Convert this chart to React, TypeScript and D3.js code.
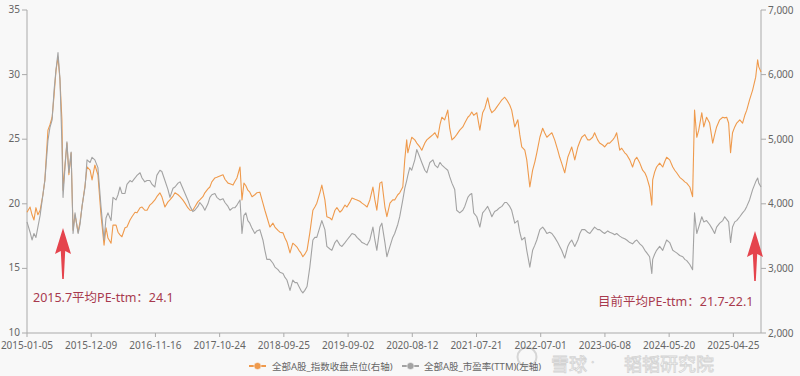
import React from "react";
import * as d3 from "d3";

// trading-day index from 2015-01-05 (category positions)
const dayIndex = [
  0, 11, 18, 25, 32, 39, 47, 57, 64, 75,
  82, 90, 97, 104, 111, 118, 125, 129, 136, 143,
  150, 158, 165, 172, 183, 190, 197, 208, 215, 226,
  233, 243, 254, 265, 276, 283, 290, 301, 308, 319,
  326, 333, 340, 351, 358, 369, 376, 387, 394, 405,
  412, 422, 430, 440, 448, 458, 465, 476, 483, 494,
  505, 512, 523, 530, 541, 548, 558, 566, 576, 584,
  594, 601, 612, 619, 630, 637, 648, 655, 662, 673,
  680, 691, 702, 709, 720, 727, 738, 745, 752, 763,
  770, 777, 784, 791, 798, 806, 816, 823, 834, 845,
  852, 859, 870, 881, 888, 899, 906, 917, 924, 931,
  942, 952, 960, 967, 974, 981, 988, 995, 1003, 1013,
  1024, 1031, 1038, 1049, 1056, 1067, 1074, 1085, 1092, 1103,
  1110, 1121, 1128, 1139, 1146, 1157, 1164, 1175, 1182, 1192,
  1200, 1210, 1218, 1228, 1239, 1246, 1253, 1264, 1271, 1282,
  1289, 1300, 1310, 1317, 1328, 1335, 1346, 1353, 1360, 1364,
  1371, 1378, 1389, 1396, 1407, 1414, 1425, 1432, 1443, 1454,
  1461, 1471, 1479, 1486, 1496, 1507, 1514, 1522, 1532, 1539,
  1550, 1561, 1568, 1579, 1586, 1593, 1600, 1611, 1622, 1632,
  1640, 1650, 1658, 1665, 1675, 1683, 1693, 1701, 1711, 1718,
  1729, 1736, 1747, 1758, 1765, 1772, 1783, 1790, 1801, 1811,
  1819, 1826, 1837, 1847, 1854, 1862, 1872, 1880, 1890, 1901,
  1908, 1915, 1926, 1937, 1944, 1951, 1962, 1973, 1980, 1987,
  1998, 2008, 2016, 2026, 2033, 2044, 2051, 2062, 2069, 2080,
  2087, 2098, 2105, 2112, 2123, 2130, 2141, 2148, 2159, 2169,
  2177, 2184, 2195, 2205, 2213, 2220, 2230, 2238, 2241, 2248,
  2255, 2266, 2277, 2284, 2291, 2302, 2313, 2320, 2327, 2338,
  2349, 2356, 2363, 2374, 2384, 2391, 2399, 2406, 2417, 2424,
  2434, 2445, 2456, 2463, 2470, 2481, 2492, 2499, 2506, 2513,
  2520, 2527, 2535, 2542, 2553, 2563, 2571, 2578, 2588, 2599,
  2610, 2617, 2621, 2629,
];

// 全部A股_指数收盘点位 (right axis)
const indexClose = [
  3870, 3950, 3830, 3750, 3940, 3830, 3900, 4140, 4370, 5140,
  5220, 5340, 5680, 6070, 6270, 5920, 5300, 4210, 4600, 4940,
  4450, 4790, 3590, 3830, 3560, 3720, 3950, 4290, 4570, 4520,
  4370, 4600, 4450, 3830, 3360, 3630, 3470, 3390, 3670, 3670,
  3560, 3520, 3490, 3630, 3640, 3750, 3800, 3870, 3860, 3940,
  3950, 3900, 3900, 3980, 4010, 4060, 4110, 4170, 4110, 3950,
  4030, 4060, 4120, 4170, 4140, 4110, 4060, 4010, 3940, 3900,
  3900, 3950, 4030, 4060, 4110, 4170, 4230, 4260, 4340, 4400,
  4410, 4430, 4450, 4380, 4320, 4310, 4290, 4350, 4400, 4570,
  4060, 4320, 4280, 4210, 4180, 4110, 4140, 4170, 4180, 4010,
  3900, 3800, 3640, 3700, 3640, 3590, 3560, 3550, 3470, 3410,
  3240, 3390, 3360, 3330, 3280, 3240, 3180, 3220, 3280, 3550,
  3900, 3950, 4010, 4170, 4290, 4060, 3800, 3780, 3750, 3900,
  3940, 3870, 3900, 3980, 3950, 4030, 4090, 4070, 4060, 4040,
  4010, 3980, 3950, 4060, 4260, 4060, 3900, 4320, 4340, 3950,
  3800, 4010, 4060, 4060, 4140, 4170, 4260, 4680, 4990, 4790,
  4910, 5030, 4990, 4940, 4880, 4830, 4940, 4990, 5030, 5070,
  5100, 5020, 5220, 5340, 5300, 5450, 5170, 4990, 5030, 5070,
  5140, 5190, 5250, 5340, 5370, 5420, 5370, 5410, 5140, 5410,
  5480, 5640, 5480, 5410, 5450, 5500, 5560, 5610, 5650, 5610,
  5530, 5450, 5190, 5300, 5070, 4880, 4830, 4680, 4260, 4520,
  4650, 4790, 5030, 5170, 5100, 5030, 5070, 5100, 4990, 4830,
  4720, 4630, 4480, 4720, 4800, 4880, 4680, 4880, 4960, 5030,
  5070, 4990, 4990, 5030, 5100, 4990, 4940, 4910, 4880, 4940,
  4940, 4990, 5030, 5100, 4830, 4860, 4790, 4760, 4680, 4570,
  4680, 4720, 4630, 4520, 4480, 4410, 4260, 3980, 4370, 4490,
  4570, 4630, 4570, 4650, 4720, 4680, 4570, 4520, 4480, 4410,
  4370, 4340, 4320, 4260, 4110, 5450, 5030, 5140, 5410, 5190,
  5340, 5250, 4940, 5070, 5190, 5300, 5340, 5330, 5340, 5250,
  4790, 5100, 5190, 5250, 5300, 5250, 5370, 5450, 5610, 5760,
  5960, 6230, 6120, 6040,
];

// 全部A股_市盈率(TTM) (left axis)
const peTTM = [
  18.6, 17.8, 17.2, 17.7, 17.4, 18.2, 19.1, 20.7, 21.8, 24.9,
  25.9, 26.5, 28.8, 30.4, 31.7, 29.7, 24.7, 20.5, 22.8, 24.8,
  22.4, 24.0, 17.7, 19.3, 17.7, 18.4, 19.8, 21.3, 23.4, 23.2,
  23.6, 23.4, 22.8, 19.8, 17.2, 18.9, 19.3, 18.7, 20.5, 20.3,
  20.7, 21.3, 20.8, 20.8, 21.5, 21.8, 21.7, 22.0, 22.2, 22.4,
  22.0, 21.7, 21.8, 21.8, 21.5, 21.3, 22.2, 22.6, 22.5, 21.8,
  21.1, 20.5, 21.2, 21.3, 21.6, 21.7, 21.2, 20.8, 20.3, 19.8,
  19.4, 19.5, 19.8, 20.1, 19.8, 19.5, 20.0, 20.5, 20.7, 20.8,
  20.5, 20.3, 20.4, 20.1, 19.8, 19.5, 19.7, 19.7, 19.9, 20.3,
  17.7, 19.1, 19.3, 18.7, 18.5, 18.1, 17.7, 17.9, 18.0, 17.2,
  16.4, 15.7, 15.7, 15.4, 15.1, 14.9, 14.7, 14.6, 14.3, 14.1,
  13.3, 14.1, 13.9, 13.9, 13.6, 13.3, 13.1, 13.3, 13.6, 15.1,
  17.2, 17.4, 17.4, 18.2, 18.7, 18.0, 16.7, 16.5, 16.4, 17.0,
  17.2, 16.8, 16.7, 17.0, 17.2, 17.5, 17.7, 17.6, 17.4, 17.2,
  17.0, 16.9, 16.8, 17.2, 18.2, 17.2, 16.4, 18.2, 18.5, 17.0,
  15.9, 16.7, 17.4, 17.7, 18.4, 19.0, 20.3, 21.2, 21.8, 22.2,
  22.8, 22.6, 23.4, 24.2, 23.6, 23.2, 22.6, 22.4, 23.2, 23.4,
  23.0, 22.8, 23.2, 23.0, 22.8, 22.6, 22.1, 21.6, 21.1, 19.5,
  19.3, 19.5, 19.8, 20.5, 20.7, 20.8, 19.3, 19.0, 18.2, 19.3,
  19.5, 19.8, 19.4, 19.0, 19.4, 19.5, 19.7, 19.8, 20.1, 20.1,
  19.8, 19.5, 18.5, 18.7, 17.8, 17.2, 17.4, 16.4, 15.1, 16.4,
  16.8, 17.2, 18.0, 18.2, 18.0, 17.7, 17.8, 17.7, 17.4, 17.0,
  16.7, 16.4, 15.8, 16.7, 17.0, 17.2, 16.7, 17.2, 17.7, 18.0,
  18.0, 17.8, 17.7, 18.0, 18.2, 18.0, 18.0, 17.8, 17.7, 17.9,
  17.8, 17.7, 17.6, 17.7, 17.5, 17.4, 17.3, 17.2, 17.0, 16.9,
  17.1, 17.2, 16.9, 16.7, 16.4, 16.2, 15.9, 14.6, 15.7, 16.1,
  16.4, 16.7, 16.4, 16.8, 17.2, 17.0, 16.4, 16.3, 16.2, 16.0,
  15.9, 15.7, 15.6, 15.3, 14.9, 19.3, 17.7, 18.2, 19.0, 18.6,
  18.7, 18.4, 18.0, 17.7, 18.2, 18.5, 18.7, 19.0, 18.8, 18.6,
  17.0, 18.2, 18.6, 18.7, 19.0, 19.3, 19.5, 19.8, 20.3, 21.1,
  21.7, 22.0, 21.6, 21.3,
];

const xTickLabels = [
  "2015-01-05", "2015-12-09", "2016-11-16", "2017-10-24", "2018-09-25", "2019-09-02",
  "2020-08-12", "2021-07-21", "2022-07-01", "2023-06-08", "2024-05-20", "2025-04-25",
];
const leftTicks = [10, 15, 20, 25, 30, 35];
const rightTicks = [2000, 3000, 4000, 5000, 6000, 7000];
const TOTAL_DAYS = 2629;
const LABEL_STEP = 230;

const seriesNames = ["全部A股_指数收盘点位(右轴)", "全部A股_市盈率(TTM)(左轴)"];
const noteLeft = "2015.7平均PE-ttm：24.1";
const noteRight = "目前平均PE-ttm：21.7-22.1";

const ORANGE = "#ef9a4c";
const GREY = "#a3a3a3";
const FONT = "'Noto Sans', 'Noto Sans CJK SC', sans-serif";

function arrowPath(cx: number, top: number, bottom: number) {
  const hw = 8;
  const hh = 26;
  return `M${cx},${top} L${cx + hw},${top + hh} L${cx + 2.2},${top + hh - 3} L${cx + 0.8},${bottom} L${cx - 0.8},${bottom} L${cx - 2.2},${top + hh - 3} L${cx - hw},${top + hh} Z`;
}

export default function App() {
  const W = 800, H = 376;
  const left = 27, right = 761, top = 10, bottom = 333;
  const x = d3.scaleLinear().domain([0, TOTAL_DAYS]).range([left, right]);
  const yL = d3.scaleLinear().domain([10, 35]).range([bottom, top]);
  const yR = d3.scaleLinear().domain([2000, 7000]).range([bottom, top]);

  const lineIdx = d3.line<number>().x((_, i) => x(dayIndex[i])).y((d) => yR(d));
  const linePE = d3.line<number>().x((_, i) => x(dayIndex[i])).y((d) => yL(d));
  const fmt = d3.format(",");
  const xTicks = xTickLabels.map((l, k) => ({ l, v: k * LABEL_STEP }));

  return (
    <svg width={W} height={H} style={{ position: "fixed", left: 0, top: 0, background: "#f8f8f8" }} fontFamily={FONT}>
      <rect width={W} height={H} fill="#f8f8f8" />
      {/* watermark (behind labels) */}
      <g opacity={0.7}>
        <circle cx={527} cy={357} r={9.5} fill="none" stroke="#c8c8c8" strokeWidth={2} />
        <text x={551} y={371} fontSize={18} fill="#ffffff" stroke="#c4c4c4" strokeWidth={0.8}>雪球</text>
        <text x={591} y={367} fontSize={13} fill="#ffffff" stroke="#c4c4c4" strokeWidth={0.8}>·</text>
        <text x={624} y={371} fontSize={18} fill="#ffffff" stroke="#c4c4c4" strokeWidth={0.8}>韬韬研究院</text>
      </g>
      {/* axes */}
      <line x1={left} x2={left} y1={top} y2={bottom} stroke="#aaa" />
      <line x1={right} x2={right} y1={top} y2={bottom} stroke="#aaa" />
      <line x1={left} x2={right} y1={bottom} y2={bottom} stroke="#aaa" />
      {leftTicks.map((t) => (
        <g key={"l" + t}>
          <line x1={left - 5} x2={left} y1={yL(t)} y2={yL(t)} stroke="#aaa" />
          <text x={left - 7} y={yL(t) + 3} fontSize={10} fill="#666" textAnchor="end">{t}</text>
        </g>
      ))}
      {rightTicks.map((t) => (
        <g key={"r" + t}>
          <line x1={right} x2={right + 5} y1={yR(t)} y2={yR(t)} stroke="#aaa" />
          <text x={right + 7} y={yR(t) + 3.5} fontSize={10} fill="#666">{fmt(t)}</text>
        </g>
      ))}
      {xTicks.map((t) => (
        <g key={t.l}>
          <line x1={x(t.v)} x2={x(t.v)} y1={bottom} y2={bottom + 4} stroke="#aaa" />
          <text x={x(t.v)} y={bottom + 16} fontSize={10} fill="#666" textAnchor="middle">{t.l}</text>
        </g>
      ))}
      {/* series */}
      <path d={lineIdx(indexClose) || ""} fill="none" stroke={ORANGE} strokeWidth={1.1} strokeLinejoin="round" />
      <path d={linePE(peTTM) || ""} fill="none" stroke={GREY} strokeWidth={1.1} strokeLinejoin="round" />
      {/* annotations */}
      <path d={arrowPath(63, 228, 279)} fill="#e5444d" />
      <path d={arrowPath(755, 231, 281)} fill="#e5444d" />
      <text x={33} y={302} fontSize={12.5} fill="#a83a4e">{noteLeft}</text>
      <text x={598} y={306} fontSize={12.5} fill="#a83a4e">{noteRight}</text>
      {/* legend */}
      <g fontSize={9.5} fill="#666">
        <line x1={249} x2={266} y1={366} y2={366} stroke={ORANGE} strokeWidth={2} />
        <circle cx={257.5} cy={366} r={3.6} fill={ORANGE} stroke="#f8f8f8" strokeWidth={0.6} />
        <text x={272} y={369.5}>{seriesNames[0]}</text>
        <line x1={402} x2={419} y1={366} y2={366} stroke={GREY} strokeWidth={2} />
        <circle cx={410.5} cy={366} r={3.6} fill={GREY} stroke="#f8f8f8" strokeWidth={0.6} />
        <text x={424} y={369.5}>{seriesNames[1]}</text>
      </g>
    </svg>
  );
}
